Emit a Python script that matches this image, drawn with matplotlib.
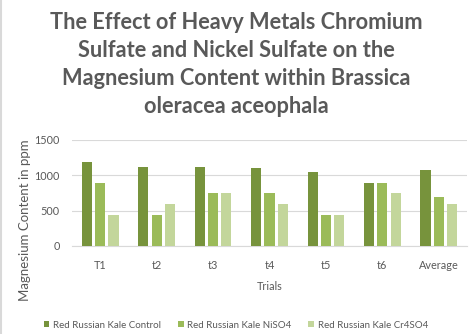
import numpy as np
import matplotlib.pyplot as plt
from matplotlib.lines import Line2D

# magnesium content (ppm) per trial
trials = ['T1', 't2', 't3', 't4', 't5', 't6', 'Average']
control = [1190, 1120, 1120, 1100, 1050, 890, 1070]
niso4 = [890, 440, 750, 750, 440, 890, 690]
cr4so4 = [440, 600, 750, 600, 440, 750, 600]

series = ['Red Russian Kale Control', 'Red Russian Kale NiSO4', 'Red Russian Kale Cr4SO4']
colors = ['#77933C', '#9BBB59', '#C3D69B']

plt.rcParams['font.family'] = ['Lato', 'DejaVu Sans']
txt = '#595959'

fig = plt.figure(figsize=(4.72, 3.34), dpi=100)
ax = fig.add_axes([72/472, 1-246/334, 395/472, 106/334])

x = np.arange(len(trials))
w = 0.18
step = 0.235
for i, (vals, name, c) in enumerate(zip([control, niso4, cr4so4], series, colors)):
    ax.bar(x + (i-1)*step, vals, w, color=c, label=name, zorder=3)

ax.set_xlim(-0.5, len(trials)-0.5)
ax.set_ylim(0, 1500)
ax.set_yticks([0, 500, 1000, 1500])
ax.set_xticks(x)
ax.set_xticklabels(trials)
ax.tick_params(length=0, labelsize=7.8, colors=txt, pad=10)
ax.tick_params(axis='y', pad=9)
ax.grid(axis='y', color='#D9D9D9', lw=0.8, zorder=0)
for s in ['top', 'right', 'left']:
    ax.spines[s].set_visible(False)
ax.spines['bottom'].set_color('#D9D9D9')

ax.set_xlabel('Trials', fontsize=7.8, color=txt, labelpad=7)
fig.text(25/472, 1-220/334, 'Magnesium Content in ppm', rotation=90,
         fontsize=9.5, color=txt, ha='center', va='center')

fig.text(0.5, 1-12/334,
         'The Effect of Heavy Metals Chromium\nSulfate and Nickel Sulfate on the\n'
         'Magnesium Content within Brassica\noleracea aceophala',
         ha='center', va='top', fontsize=15.7, fontweight='bold', color=txt,
         linespacing=1.42)

ax.legend(loc='center', bbox_to_anchor=(0.5, 1-325/334), bbox_transform=fig.transFigure,
          ncol=3, frameon=False, fontsize=7, labelcolor=txt,
          handlelength=0.6, handleheight=0.6, handletextpad=0.4, columnspacing=1.7)

fig.add_artist(Line2D([0.003, 0.003], [0, 1], transform=fig.transFigure, color='#D9D9D9', lw=1.5))

fig.savefig('out.png', dpi=100)
